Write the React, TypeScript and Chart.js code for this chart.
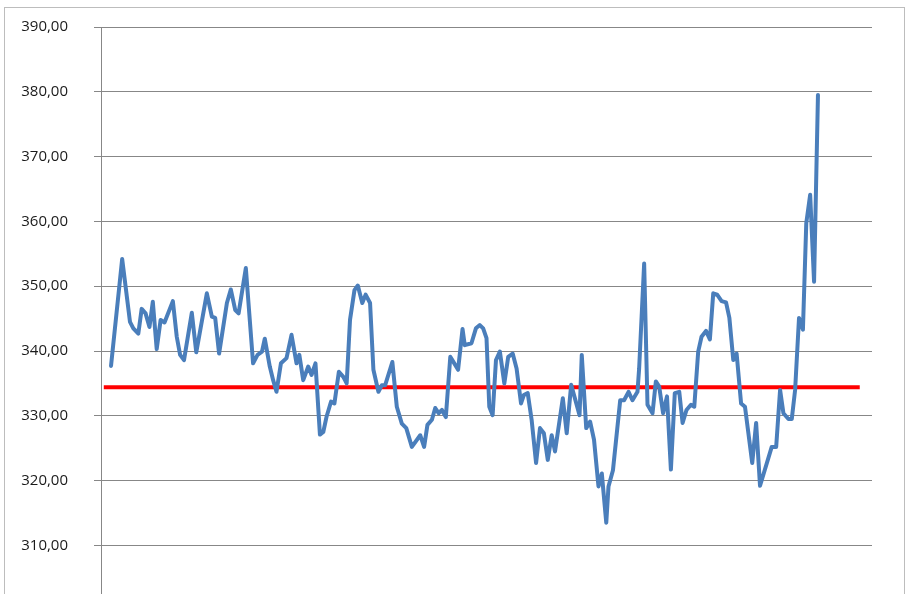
import React, { useEffect, useRef } from "react";
import { Chart, registerables } from "chart.js";

Chart.register(...registerables);

// Day offsets (from the first observation) of each reading
const days: number[] = [
  0, 20, 34, 40, 49, 55, 62, 69, 75, 82, 89, 96, 111, 118, 124, 131, 145, 153, 172, 181,
  187, 194, 208, 215, 223, 229, 242, 255, 263, 271, 276, 285, 291, 297, 305, 315, 324, 333, 338, 345,
  354, 360, 367, 375, 381, 387, 395, 401, 409, 417, 423, 429, 437, 443, 451, 457, 465, 471, 480, 486,
  492, 505, 513, 522, 530, 540, 555, 562, 568, 576, 582, 588, 594, 601, 609, 614, 623, 631, 635, 647,
  655, 662, 668, 674, 679, 685, 691, 698, 706, 713, 721, 728, 736, 741, 748, 755, 763, 770, 777, 784,
  791, 797, 811, 818, 826, 841, 845, 853, 860, 867, 875, 881, 889, 893, 901, 914, 921, 929, 936, 945,
  948, 957, 963, 972, 978, 984, 991, 998, 1005, 1012, 1020, 1026, 1033, 1041, 1047, 1054, 1060, 1068, 1075, 1081,
  1088, 1096, 1104, 1110, 1117, 1123, 1131, 1138, 1151, 1158, 1165, 1186, 1194, 1201, 1207, 1216, 1222, 1228, 1235, 1242,
  1248, 1255, 1262, 1269,
];

const prices: number[] = [
  337.7, 354.2, 344.5, 343.5, 342.7, 346.5, 345.8, 343.7, 347.6, 340.3, 344.8, 344.4, 347.7, 342.2, 339.4, 338.6, 345.9, 339.8, 348.9, 345.3,
  345.1, 339.6, 347.4, 349.5, 346.3, 345.8, 352.8, 338.1, 339.4, 339.9, 341.9, 337.6, 335.5, 333.7, 338.1, 338.9, 342.5, 338.1, 339.4, 335.5,
  337.6, 336.3, 338.1, 327.1, 327.5, 329.9, 332.2, 331.9, 336.8, 336.0, 335.0, 344.8, 349.4, 350.1, 347.4, 348.7, 347.4, 337.1, 333.7, 334.7,
  334.7, 338.3, 331.4, 328.8, 328.1, 325.2, 327.0, 325.2, 328.6, 329.4, 331.2, 330.4, 330.9, 329.8, 339.1, 338.4, 337.1, 343.4, 340.9, 341.2,
  343.5, 344.0, 343.5, 342.0, 331.4, 330.1, 338.6, 339.9, 335.0, 339.1, 339.6, 337.3, 331.9, 333.2, 333.5, 329.4, 322.7, 328.1, 327.3, 323.2,
  327.0, 324.5, 332.7, 327.3, 334.8, 330.1, 339.4, 328.1, 329.1, 326.3, 319.1, 321.1, 313.5, 319.1, 321.6, 332.4, 332.4, 333.7, 332.4, 333.7,
  337.3, 353.5, 331.7, 330.4, 335.3, 334.5, 330.4, 333.0, 321.7, 333.5, 333.7, 328.9, 330.9, 331.7, 331.4, 339.9, 342.2, 343.1, 341.8, 348.9,
  348.7, 347.7, 347.5, 345.1, 338.6, 339.6, 331.9, 331.4, 322.7, 328.9, 319.2, 325.2, 325.2, 334.0, 330.4, 329.5, 329.5, 334.0, 345.1, 343.3,
  359.7, 364.1, 350.7, 379.5,
];

// Reference (average) level drawn in red, and the day range it covers
const avgLevel = 334.4;
const avgStartDay = -13;
const avgEndDay = 1344;

// Axis ranges
const xMinDay = -18;
const xMaxDay = 1366;
const yMin = 302.5;
const yMax = 390;
const yStep = 10;

const outerFrame = {
  id: "outerFrame",
  beforeDraw(chart: any) {
    const { ctx, width, height } = chart;
    ctx.save();
    ctx.fillStyle = "#ffffff";
    ctx.fillRect(0, 0, width, height);
    ctx.strokeStyle = "#bdbdbd";
    ctx.lineWidth = 1;
    ctx.strokeRect(4.5, 7.5, 900, 700);
    ctx.restore();
  },
};

export default function App() {
  const ref = useRef<HTMLCanvasElement | null>(null);

  useEffect(() => {
    if (!ref.current) return;
    const chart = new Chart(ref.current, {
      type: "line",
      data: {
        datasets: [
          {
            label: "Price",
            data: days.map((d, i) => ({ x: d, y: prices[i] })),
            borderColor: "#4a7ebb",
            borderWidth: 4,
            pointRadius: 0,
            tension: 0,
            borderJoinStyle: "round",
            borderCapStyle: "round",
            fill: false,
          },
          {
            label: "Average",
            data: [
              { x: avgStartDay, y: avgLevel },
              { x: avgEndDay, y: avgLevel },
            ],
            borderColor: "#ff0000",
            borderWidth: 4,
            pointRadius: 0,
            borderCapStyle: "butt",
            fill: false,
          },
        ],
      },
      options: {
        responsive: false,
        animation: false,
        layout: { padding: { left: 0, top: 27, right: 36, bottom: 0 }, autoPadding: false },
        plugins: {
          legend: { display: false },
          tooltip: { enabled: false },
          title: { display: false },
        },
        scales: {
          x: {
            type: "linear",
            display: false,
            min: xMinDay,
            max: xMaxDay,
          },
          y: {
            min: yMin,
            max: yMax,
            afterFit: (scale: any) => {
              scale.width = 101;
              scale.paddingTop = 0;
              scale.paddingBottom = 0;
            },
            afterBuildTicks: (scale: any) => {
              scale.ticks = scale.ticks.filter(
                (t: any) => Math.abs(t.value / yStep - Math.round(t.value / yStep)) < 1e-6
              );
            },
            ticks: {
              stepSize: yStep,
              padding: 26,
              color: "#1a1a1a",
              font: { family: "'Open Sans', 'Liberation Sans', sans-serif", size: 15 },
              callback: (v: any) => Number(v).toFixed(2).replace(".", ","),
            },
            grid: {
              color: "#878787",
              lineWidth: 1,
              drawTicks: true,
              tickLength: 7,
            },
            border: { display: true, color: "#878787", width: 1 },
          },
        },
      },
      plugins: [outerFrame],
    });
    return () => chart.destroy();
  }, []);

  return (
    <div style={{ position: "fixed", left: 0, top: 0, width: 908, height: 594, background: "#fff" }}>
      <canvas ref={ref} width={908} height={594} style={{ display: "block" }} />
    </div>
  );
}
